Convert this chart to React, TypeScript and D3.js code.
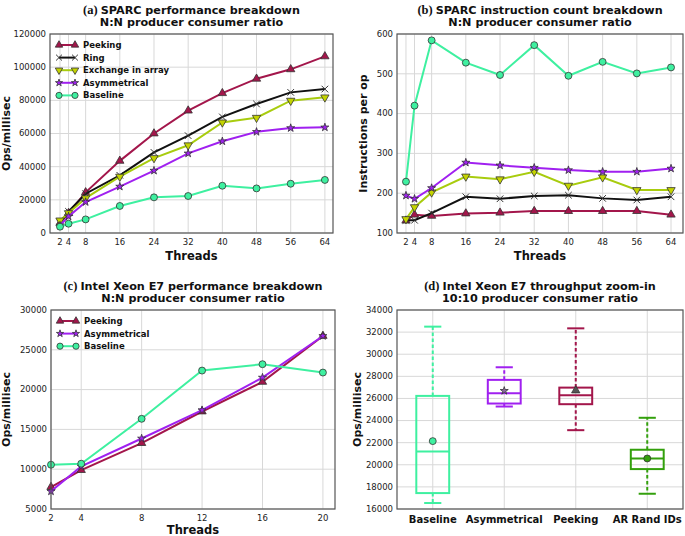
import React from 'react'
import * as d3 from 'd3'

// thread counts
const sparcThreads = [2, 4, 8, 16, 24, 32, 40, 48, 56, 64]
const xeonThreads = [2, 4, 8, 12, 16, 20]

// (a) SPARC ops/millisec
const aPeeking = [6000, 12000, 24500, 43500, 60000, 73800, 84300, 93000, 98700, 106500]
const aRing = [6000, 13000, 23700, 34800, 48600, 58700, 70000, 77800, 84800, 86800]
const aExchange = [7600, 12000, 21000, 34000, 45200, 52900, 66700, 69500, 79800, 81800]
const aAsym = [4500, 10000, 18700, 28000, 37600, 48000, 55300, 61000, 63300, 63700]
const aBaseline = [3800, 5600, 8200, 16300, 21500, 22300, 28500, 26900, 29700, 32000]

// (b) SPARC instructions per op
const bPeeking = [131, 146, 143, 149, 151, 155, 155, 155, 155, 146]
const bRing = [132, 132, 150, 191, 186, 193, 195, 187, 183, 191]
const bExchange = [135, 165, 202, 242, 235, 254, 219, 240, 208, 208]
const bAsym = [194, 186, 213, 277, 270, 264, 258, 254, 254, 262]
const bBaseline = [229, 420, 584, 528, 497, 572, 495, 530, 501, 516]

// (c) Xeon ops/millisec
const cPeeking = [7760, 9890, 13280, 17250, 20970, 26740]
const cAsym = [7220, 10350, 13860, 17420, 21510, 26740]
const cBaseline = [10560, 10690, 16330, 22390, 23190, 22140]

// (d) Xeon 10:10 box plot
const boxCategories = ['Baseline', 'Asymmetrical', 'Peeking', 'AR Rand IDs']
const boxWhiskerLow = [16540, 25270, 23130, 17380]
const boxQ1 = [17440, 25540, 25480, 19610]
const boxMedian = [21200, 26480, 26290, 20570]
const boxQ3 = [26230, 27680, 26980, 21360]
const boxWhiskerHigh = [32495, 28820, 32340, 24250]
const boxMean = [22140, 26690, 26720, 20570]

const C = {
  peeking: '#a3164b',
  ring: '#111111',
  exchange: '#a8cc0e',
  exchangeFill: '#c4d400',
  asym: '#a020f0',
  baseline: '#3ef0a0',
  ar: '#33a00c',
}

const FONT = "'DejaVu Sans', sans-serif"

type Marker = 'triUp' | 'triDown' | 'x' | 'star' | 'circle'

function Mark({ type, x, y, fill, size = 1 }: { type: Marker; x: number; y: number; fill: string; size?: number }) {
  if (type === 'x') {
    const p = d3.symbol(d3.symbolTimes, 30 * size)()
    return <path d={p!} transform={`translate(${x},${y})`} fill="none" stroke="#333" strokeWidth={1} />
  }
  const sym = type === 'star' ? d3.symbolStar : type === 'circle' ? d3.symbolCircle : d3.symbolTriangle
  const area = type === 'star' ? 20 : type === 'circle' ? 38 : 30
  const p = d3.symbol(sym, area * size)()
  const rot = type === 'triDown' ? ' rotate(180)' : ''
  return <path d={p!} transform={`translate(${x},${y})${rot}`} fill={fill} stroke="#333" strokeWidth={0.8} />
}

type Series = { name: string; values: number[]; color: string; fill: string; marker: Marker }

function Title({ cx, top, letter, line1, line2 }: { cx: number; top: number; letter: string; line1: string; line2: string }) {
  return (
    <g fontFamily={FONT} fontWeight="bold" fontSize={11.2} textAnchor="middle" fill="#111">
      <text x={cx} y={top - 20}>
        <tspan fontFamily="'Liberation Serif', serif" fontSize={12.5}>{letter} </tspan>
        {line1}
      </text>
      <text x={cx} y={top - 8}>{line2}</text>
    </g>
  )
}

function Frame({ l, t, r, b }: { l: number; t: number; r: number; b: number }) {
  return <rect x={l} y={t} width={r - l} height={b - t} fill="none" stroke="#555" strokeWidth={1.2} />
}

function LinePanel(props: {
  l: number; t: number; r: number; b: number
  xDomain: [number, number]; yDomain: [number, number]; yTicks: number[]
  xs: number[]; series: Series[]; letter: string; line1: string; line2: string
  yLabel: string; yLabelX: number; legend: boolean; xLabelGap: number
}) {
  const { l, t, r, b, xs, series } = props
  const x = d3.scaleLinear().domain(props.xDomain).range([l, r])
  const y = d3.scaleLinear().domain(props.yDomain).range([b, t])
  const line = d3.line<number>().x((_, i) => x(xs[i])).y(d => y(d))
  return (
    <g>
      <Title cx={(l + r) / 2} top={t} letter={props.letter} line1={props.line1} line2={props.line2} />
      {props.yTicks.map(v => (
        <line key={'gy' + v} x1={l} x2={r} y1={y(v)} y2={y(v)} stroke="#d8d8d8" strokeWidth={1} />
      ))}
      {xs.map(v => (
        <line key={'gx' + v} x1={x(v)} x2={x(v)} y1={t} y2={b} stroke="#d8d8d8" strokeWidth={1} />
      ))}
      {series.map(s => (
        <g key={s.name}>
          <path d={line(s.values)!} fill="none" stroke={s.color} strokeWidth={2} />
          {s.values.map((v, i) => (
            <Mark key={i} type={s.marker} x={x(xs[i])} y={y(v)} fill={s.fill} />
          ))}
        </g>
      ))}
      <Frame l={l} t={t} r={r} b={b} />
      <g fontFamily={FONT} fontSize={8.5} fill="#222">
        {props.yTicks.map(v => (
          <text key={'ty' + v} x={l - 4} y={y(v)} dy="0.34em" textAnchor="end">{v}</text>
        ))}
        {xs.map(v => (
          <text key={'tx' + v} x={x(v)} y={b + 12} textAnchor="middle">{v}</text>
        ))}
      </g>
      <text x={(l + r) / 2} y={b + props.xLabelGap} textAnchor="middle" fontFamily={FONT} fontWeight="bold" fontSize={11.5} fill="#111">Threads</text>
      <text transform={`translate(${props.yLabelX},${(t + b) / 2}) rotate(-90)`} textAnchor="middle" fontFamily={FONT} fontWeight="bold" fontSize={11} fill="#111">{props.yLabel}</text>
      {props.legend && (
        <g fontFamily={FONT} fontWeight="bold" fontSize={8.5} fill="#111">
          {series.map((s, i) => {
            const ly = t + 11 + i * 12.6
            return (
              <g key={'lg' + s.name}>
                <line x1={l + 9} x2={l + 25} y1={ly} y2={ly} stroke={s.color} strokeWidth={2} />
                <Mark type={s.marker} x={l + 9} y={ly} fill={s.fill} size={0.8} />
                <Mark type={s.marker} x={l + 25} y={ly} fill={s.fill} size={0.8} />
                <text x={l + 33} y={ly} dy="0.35em">{s.name}</text>
              </g>
            )
          })}
        </g>
      )}
    </g>
  )
}

function BoxPanel() {
  const l = 397, t = 310, r = 683, b = 509
  const x = d3.scaleBand<string>().domain(boxCategories).range([l, r])
  const y = d3.scaleLinear().domain([16000, 34000]).range([b, t])
  const yTicks = d3.range(16000, 34001, 2000)
  const colors = [C.baseline, C.asym, C.peeking, C.ar]
  const meanMarks: { type: Marker; fill: string }[] = [
    { type: 'circle', fill: C.baseline },
    { type: 'star', fill: '#8a6aa0' },
    { type: 'triUp', fill: '#555' },
    { type: 'circle', fill: C.ar },
  ]
  const bw = x.bandwidth() * 0.46
  const cw = x.bandwidth() * 0.24
  return (
    <g>
      <Title cx={(l + r) / 2} top={t} letter="(d)" line1="Intel Xeon E7 throughput zoom-in" line2="10:10 producer consumer ratio" />
      {yTicks.map(v => (
        <line key={'gy' + v} x1={l} x2={r} y1={y(v)} y2={y(v)} stroke="#d8d8d8" strokeWidth={1} />
      ))}
      {boxCategories.map(c => {
        const cx = x(c)! + x.bandwidth() / 2
        return <line key={'gx' + c} x1={cx} x2={cx} y1={t} y2={b} stroke="#d8d8d8" strokeWidth={1} />
      })}
      {boxCategories.map((c, i) => {
        const cx = x(c)! + x.bandwidth() / 2
        const col = colors[i]
        return (
          <g key={c} stroke={col} fill="none">
            <line x1={cx} x2={cx} y1={y(boxQ3[i])} y2={y(boxWhiskerHigh[i])} strokeWidth={2} strokeDasharray="3.5,2.5" />
            <line x1={cx} x2={cx} y1={y(boxQ1[i])} y2={y(boxWhiskerLow[i])} strokeWidth={2} strokeDasharray="3.5,2.5" />
            <line x1={cx - cw / 2} x2={cx + cw / 2} y1={y(boxWhiskerHigh[i])} y2={y(boxWhiskerHigh[i])} strokeWidth={2} />
            <line x1={cx - cw / 2} x2={cx + cw / 2} y1={y(boxWhiskerLow[i])} y2={y(boxWhiskerLow[i])} strokeWidth={2} />
            <rect x={cx - bw / 2} y={y(boxQ3[i])} width={bw} height={y(boxQ1[i]) - y(boxQ3[i])} strokeWidth={2} />
            <line x1={cx - bw / 2} x2={cx + bw / 2} y1={y(boxMedian[i])} y2={y(boxMedian[i])} strokeWidth={2} />
            <Mark type={meanMarks[i].type} x={cx} y={y(boxMean[i])} fill={meanMarks[i].fill} />
          </g>
        )
      })}
      <Frame l={l} t={t} r={r} b={b} />
      <g fontFamily={FONT} fontSize={8.5} fill="#222">
        {yTicks.map(v => (
          <text key={'ty' + v} x={l - 4} y={y(v)} dy="0.34em" textAnchor="end">{v}</text>
        ))}
      </g>
      <g fontFamily={FONT} fontWeight="bold" fontSize={10} fill="#111">
        {boxCategories.map(c => (
          <text key={'tx' + c} x={x(c)! + x.bandwidth() / 2} y={b + 14} textAnchor="middle">{c}</text>
        ))}
      </g>
      <text transform={`translate(361,${(t + b) / 2}) rotate(-90)`} textAnchor="middle" fontFamily={FONT} fontWeight="bold" fontSize={11} fill="#111">Ops/millisec</text>
    </g>
  )
}

export default function App() {
  const aSeries: Series[] = [
    { name: 'Peeking', values: aPeeking, color: C.peeking, fill: C.peeking, marker: 'triUp' },
    { name: 'Ring', values: aRing, color: C.ring, fill: 'none', marker: 'x' },
    { name: 'Exchange in array', values: aExchange, color: C.exchange, fill: C.exchangeFill, marker: 'triDown' },
    { name: 'Asymmetrical', values: aAsym, color: C.asym, fill: C.asym, marker: 'star' },
    { name: 'Baseline', values: aBaseline, color: C.baseline, fill: C.baseline, marker: 'circle' },
  ]
  const bSeries: Series[] = [
    { name: 'Peeking', values: bPeeking, color: C.peeking, fill: C.peeking, marker: 'triUp' },
    { name: 'Ring', values: bRing, color: C.ring, fill: 'none', marker: 'x' },
    { name: 'Exchange in array', values: bExchange, color: C.exchange, fill: C.exchangeFill, marker: 'triDown' },
    { name: 'Asymmetrical', values: bAsym, color: C.asym, fill: C.asym, marker: 'star' },
    { name: 'Baseline', values: bBaseline, color: C.baseline, fill: C.baseline, marker: 'circle' },
  ]
  const cSeries: Series[] = [
    { name: 'Peeking', values: cPeeking, color: C.peeking, fill: C.peeking, marker: 'triUp' },
    { name: 'Asymmetrical', values: cAsym, color: C.asym, fill: C.asym, marker: 'star' },
    { name: 'Baseline', values: cBaseline, color: C.baseline, fill: C.baseline, marker: 'circle' },
  ]
  return (
    <svg width={685} height={536} style={{ position: 'absolute', left: 0, top: 0, background: '#fff' }}>
      <LinePanel l={50} t={34} r={333} b={233} xDomain={[-0.34, 65.9]} yDomain={[0, 120000]}
        yTicks={d3.range(0, 120001, 20000)} xs={sparcThreads} series={aSeries}
        letter="(a)" line1="SPARC performance breakdown" line2="N:N producer consumer ratio"
        yLabel="Ops/millisec" yLabelX={10} legend={true} xLabelGap={27} />
      <LinePanel l={397} t={34} r={683} b={233} xDomain={[-0.1, 66.8]} yDomain={[100, 600]}
        yTicks={d3.range(100, 601, 100)} xs={sparcThreads} series={bSeries}
        letter="(b)" line1="SPARC instruction count breakdown" line2="N:N producer consumer ratio"
        yLabel="Instructions per op" yLabelX={367} legend={false} xLabelGap={27} />
      <LinePanel l={51} t={310} r={335} b={509} xDomain={[2, 20.8]} yDomain={[5000, 30000]}
        yTicks={d3.range(5000, 30001, 5000)} xs={xeonThreads} series={cSeries}
        letter="(c)" line1="Intel Xeon E7 performance breakdown" line2="N:N producer consumer ratio"
        yLabel="Ops/millisec" yLabelX={10} legend={true} xLabelGap={25} />
      <BoxPanel />
    </svg>
  )
}
